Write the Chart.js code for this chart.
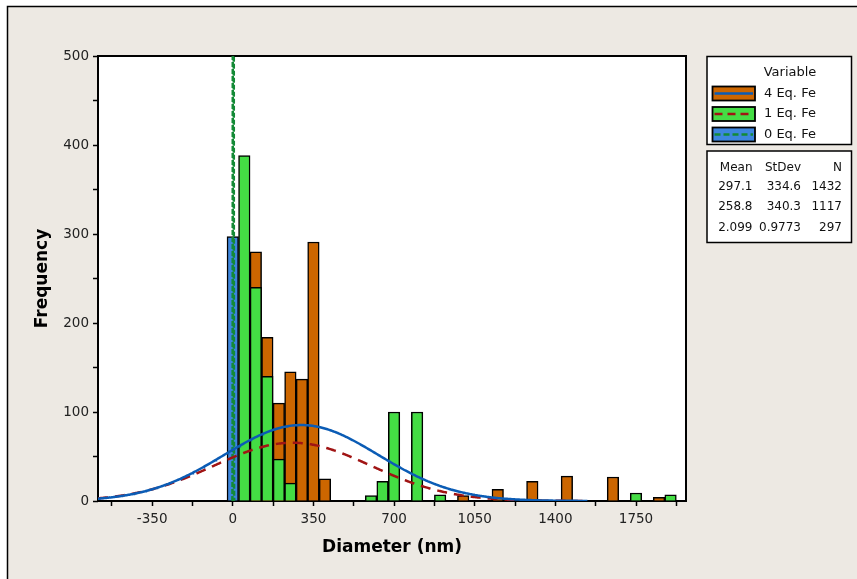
<!DOCTYPE html>
<html>
<head>
<meta charset="utf-8">
<script src="https://cdn.jsdelivr.net/npm/chart.js@4.4.1/dist/chart.umd.min.js"></script>
<style>
  html, body { margin: 0; padding: 0; background: #fff; }
  canvas { display: block; }
</style>
</head>
<body>
<canvas id="hist" width="857" height="579"></canvas>
<script>
// ---- data ----
const seriesNames = ['4 Eq. Fe', '1 Eq. Fe', '0 Eq. Fe'];
const binWidth = 50;

// histogram bin midpoints (nm) and frequencies for each sample
const fe4Bins   = [100, 150, 200, 250, 300, 350, 400, 1000, 1150, 1300, 1450, 1650, 1850];
const fe4Counts = [280, 184, 110, 145, 137, 291,  25,    6,   13,   22,   28,   27,    4];
const fe1Bins   = [ 50, 100, 150, 200, 250, 600, 650, 700, 800, 900, 1750, 1900];
const fe1Counts = [388, 240, 140,  47,  20,   6,  22, 100, 100,   7,    9,    7];
const fe0Bins   = [0];
const fe0Counts = [297];

// summary statistics (same order as seriesNames)
const means  = [297.1, 258.8, 2.099];
const stdevs = [334.6, 340.3, 0.9773];
const counts = [1432, 1117, 297];

// axis ticks
const xTicks      = [-525, -350, -175, 0, 175, 350, 525, 700, 875, 1050, 1225, 1400, 1575, 1750, 1925];
const xTickLabels = ['', '-350', '', '0', '', '350', '', '700', '', '1050', '', '1400', '', '1750', ''];
const yTicks      = [0, 50, 100, 150, 200, 250, 300, 350, 400, 450, 500];
const yTickLabels = ['0', '', '100', '', '200', '', '300', '', '400', '', '500'];

// ---- styling ----
const barColors   = ['#CC6600', '#44DD44', '#3D86DE'];
const curveColors = ['#0B5CB5', '#A01414', '#138A36'];
const curveDashes = [[], [10, 7], [5, 2]];
const bgColor = '#EDE9E3';
const FONT = "'DejaVu Sans', sans-serif";

const xMin = -585, xMax = 1967;
const curveFrom = -585, curveTo = 1540;

const toPoints = (bins, vals) => bins.map((b, i) => ({ x: b, y: vals[i] }));

// fitted normal curve scaled to histogram frequency (N * bin width * pdf)
function normalFit(k) {
  const m = means[k], s = stdevs[k], n = counts[k];
  const amp = n * binWidth / (s * Math.sqrt(2 * Math.PI));
  const pts = [];
  let lo = Math.max(curveFrom, m - 5 * s), hi = Math.min(curveTo, m + 5 * s);
  const step = Math.min(4, s / 20);
  for (let x = lo; x <= hi + 1e-9; x += step) {
    const z = (x - m) / s;
    pts.push({ x: x, y: amp * Math.exp(-0.5 * z * z) });
  }
  return pts;
}

const barSets = [
  toPoints(fe4Bins, fe4Counts),
  toPoints(fe1Bins, fe1Counts),
  toPoints(fe0Bins, fe0Counts)
];

const datasets = [];
// curves drawn above all bars
for (let k = 0; k < 3; k++) {
  datasets.push({
    type: 'line',
    label: seriesNames[k] + ' fit',
    data: normalFit(k),
    borderColor: curveColors[k],
    borderWidth: 2.5,
    borderDash: curveDashes[k],
    pointRadius: 0,
    fill: false,
    tension: 0,
    order: k
  });
}
// bars: 4 Eq. Fe at the back, 0 Eq. Fe in front
for (let k = 0; k < 3; k++) {
  datasets.push({
    type: 'bar',
    label: seriesNames[k],
    data: barSets[k],
    backgroundColor: barColors[k],
    borderColor: '#000',
    borderWidth: 1.5,
    borderSkipped: 'start',
    grouped: false,
    categoryPercentage: 1,
    barPercentage: 1,
    order: 5 - k
  });
}

const backdrop = {
  id: 'backdrop',
  beforeDraw(chart) {
    const { ctx, width, height, chartArea: a } = chart;
    ctx.save();
    ctx.fillStyle = '#fff';
    ctx.fillRect(0, 0, width, height);
    ctx.fillStyle = bgColor;
    ctx.fillRect(7, 6, width - 7, height - 6);
    ctx.strokeStyle = '#000';
    ctx.lineWidth = 1.5;
    ctx.beginPath();
    ctx.moveTo(7.5, height);
    ctx.lineTo(7.5, 6.5);
    ctx.lineTo(width, 6.5);
    ctx.stroke();
    ctx.fillStyle = '#fff';
    ctx.fillRect(a.left, a.top, a.right - a.left, a.bottom - a.top);
    ctx.restore();
  },
  beforeDatasetsDraw(chart) {
    const { ctx, chartArea: a } = chart;
    ctx.save();
    ctx.strokeStyle = '#000';
    ctx.lineWidth = 2;
    ctx.strokeRect(a.left, a.top, a.right - a.left, a.bottom - a.top);
    ctx.restore();
  }
};

const sideLegend = {
  id: 'sideLegend',
  afterDraw(chart) {
    const ctx = chart.ctx;
    ctx.save();
    ctx.fillStyle = '#fff';
    ctx.strokeStyle = '#000';
    ctx.lineWidth = 1.5;
    // box 1: variable legend
    ctx.fillRect(707, 56.5, 144.5, 88);
    ctx.strokeRect(707, 56.5, 144.5, 88);
    // box 2: statistics table
    ctx.fillRect(707, 151, 144.5, 91.5);
    ctx.strokeRect(707, 151, 144.5, 91.5);

    ctx.fillStyle = '#111';
    ctx.font = '13px ' + FONT;
    ctx.textBaseline = 'middle';
    ctx.textAlign = 'center';
    ctx.fillText('Variable', 790, 73);

    const rowY = [93.5, 114, 134.5];
    for (let k = 0; k < 3; k++) {
      const y = rowY[k];
      ctx.fillStyle = barColors[k];
      ctx.fillRect(712.5, y - 7, 42.5, 14);
      ctx.strokeStyle = '#000';
      ctx.lineWidth = 1.8;
      ctx.setLineDash([]);
      ctx.strokeRect(712.5, y - 7, 42.5, 14);
      ctx.strokeStyle = curveColors[k];
      ctx.lineWidth = 2.5;
      ctx.setLineDash(k === 1 ? [8, 5] : (k === 2 ? [6, 3] : []));
      ctx.beginPath();
      ctx.moveTo(714.5, y);
      ctx.lineTo(753, y);
      ctx.stroke();
      ctx.setLineDash([]);
      ctx.fillStyle = '#111';
      ctx.textAlign = 'left';
      ctx.font = '13px ' + FONT;
      ctx.fillText(seriesNames[k], 764, y);
    }

    const colR = [752.5, 801, 842];
    ctx.font = '12px ' + FONT;
    ctx.textAlign = 'right';
    ['Mean', 'StDev', 'N'].forEach((h, i) => ctx.fillText(h, colR[i], 168));
    const tY = [187, 207, 227.5];
    for (let k = 0; k < 3; k++) {
      ctx.fillText(String(means[k]), colR[0], tY[k]);
      ctx.fillText(String(stdevs[k]), colR[1], tY[k]);
      ctx.fillText(String(counts[k]), colR[2], tY[k]);
    }
    ctx.restore();
  }
};

new Chart(document.getElementById('hist'), {
  type: 'bar',
  data: { datasets },
  plugins: [backdrop, sideLegend],
  options: {
    responsive: false,
    devicePixelRatio: 1,
    animation: false,
    events: [],
    layout: { padding: { left: 0, right: 171, top: 56, bottom: 0 } },
    plugins: { legend: { display: false }, tooltip: { enabled: false }, title: { display: false } },
    scales: {
      x: {
        type: 'linear',
        min: xMin,
        max: xMax,
        offset: false,
        afterBuildTicks(scale) { scale.ticks = xTicks.map(v => ({ value: v })); },
        afterFit(scale) { scale.height = 78; },
        ticks: {
          autoSkip: false,
          maxRotation: 0,
          padding: 5,
          color: '#222',
          font: { family: FONT, size: 13.5 },
          callback: (v, i) => xTickLabels[i]
        },
        grid: { display: true, offset: false, drawOnChartArea: false, drawTicks: true, tickLength: 5, tickColor: '#000', tickWidth: 1.5 },
        border: { display: false },
        title: {
          display: true,
          text: 'Diameter (nm)',
          color: '#000',
          font: { family: FONT, size: 17, weight: 'bold' },
          padding: { top: 0, bottom: 21 }
        }
      },
      y: {
        type: 'linear',
        min: 0,
        max: 500,
        afterBuildTicks(scale) { scale.ticks = yTicks.map(v => ({ value: v })); },
        afterFit(scale) { scale.width = 98; },
        ticks: {
          autoSkip: false,
          padding: 4,
          color: '#222',
          font: { family: FONT, size: 13.5 },
          callback: (v, i) => yTickLabels[i]
        },
        grid: { display: true, drawOnChartArea: false, drawTicks: true, tickLength: 5, tickColor: '#000', tickWidth: 1.5 },
        border: { display: false },
        title: {
          display: true,
          text: 'Frequency',
          color: '#000',
          font: { family: FONT, size: 17, weight: 'bold' },
          padding: { top: 32, bottom: 0 }
        }
      }
    }
  }
});
</script>
</body>
</html>
